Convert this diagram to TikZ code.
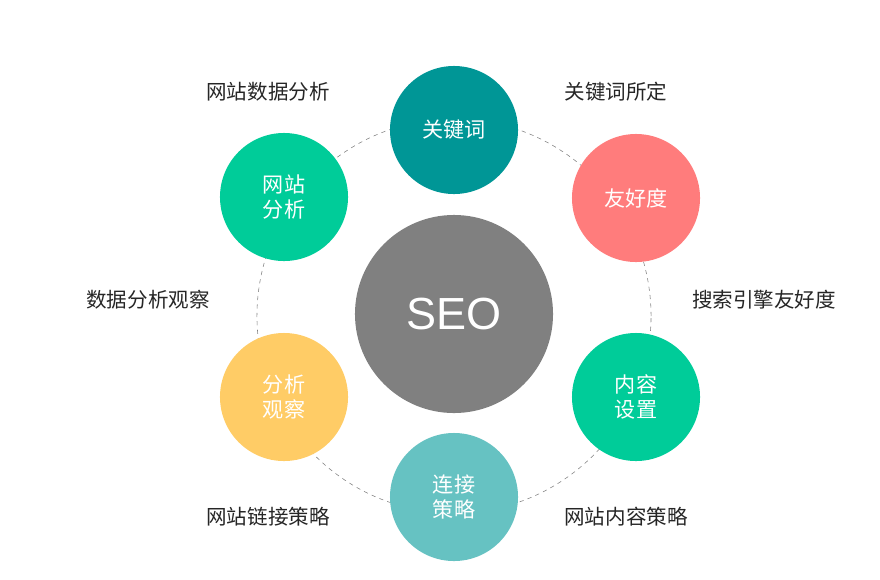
\documentclass[tikz,border=0pt]{standalone}
\usepackage{fontspec}
\setmainfont{Noto Sans CJK SC}
\newfontfamily\seofont{Liberation Sans}
\usetikzlibrary{positioning}
\definecolor{kwteal}{RGB}{0,150,150}
\definecolor{mint}{RGB}{0,204,153}
\definecolor{salmon}{RGB}{255,124,124}
\definecolor{seogray}{RGB}{128,128,128}
\definecolor{sand}{RGB}{255,204,102}
\definecolor{aqua}{RGB}{102,194,194}

\begin{document}
\begin{tikzpicture}[x=0.025cm, y=-0.025cm, font=\fontsize{14.6}{17.8}\selectfont,
    ball/.style={circle, minimum size=3.2cm, inner sep=0pt, align=center, text=white,
                 font=\fontsize{15}{17.8}\selectfont},
    tag/.style={text=black!85},
    ring/.style={draw=gray, dashed, thin}]
    \useasboundingbox (0,0) rectangle (880,579);
    % dashed ring behind the circles
    \coordinate (hub) at (454,316);
    \draw[ring] (hub) circle[radius=4.925cm];
    % centre
    \node[circle, fill=seogray, minimum size=4.95cm, inner sep=0pt, text=white,
          font=\seofont\fontsize{32}{36}\selectfont] (seo) at (454,314) {SEO};
    % outer circles
    \node[ball, fill=kwteal] (kw)   at (454,130) {关键词};
    \node[ball, fill=salmon] (fr)   at (636,198) {友好度};
    \node[ball, fill=mint]   (ct)   at (636,397) {内容\\设置};
    \node[ball, fill=aqua]   (lk)   at (454,497) {连接\\策略};
    \node[ball, fill=sand]   (ob)   at (284,397) {分析\\观察};
    \node[ball, fill=mint]   (an)   at (284,197) {网站\\分析};
    % labels
    \node[tag] (t1) at (268,92)  {网站数据分析};
    \node[tag] (t2) at (616,92)  {关键词所定};
    \node[tag] (t3) at (148,300) {数据分析观察};
    \node[tag] (t4) at (764,300) {搜索引擎友好度};
    \node[tag] (t5) at (268,517) {网站链接策略};
    \node[tag] (t6) at (626,517) {网站内容策略};
\end{tikzpicture}
\end{document}
